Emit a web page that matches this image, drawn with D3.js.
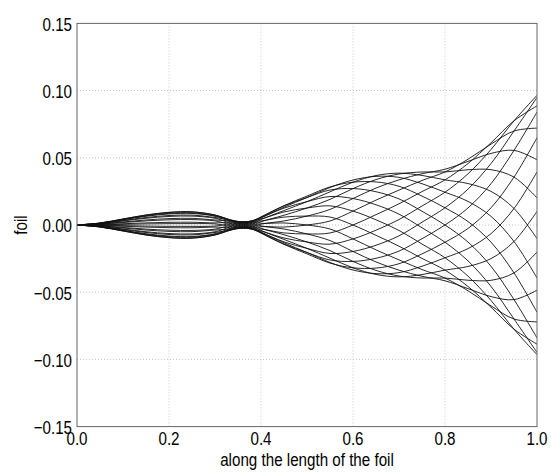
<!DOCTYPE html>
<html><head><meta charset="utf-8">
<script src="https://cdn.jsdelivr.net/npm/d3@7"></script>
<style>body{margin:0;background:#fff}svg{display:block}text{font-family:'Liberation Sans',Arial,sans-serif;font-size:18.5px;fill:#000}</style>
</head><body><svg id="c" width="551" height="476"></svg>
<script>
// tick labels
const xTicks=[0,0.2,0.4,0.6,0.8,1.0];
const yTicks=[-0.15,-0.10,-0.05,0,0.05,0.10,0.15];
// positions along the foil where the snapshots are sampled
const xGrid=[0,0.05,0.1,0.15,0.2,0.25,0.3,0.325,0.35,0.375,0.4,0.45,0.5,0.55,0.6,0.65,0.7,0.75,0.8,0.85,0.9,0.95,1.0];
// foil shape snapshots (one row per snapshot)
const snapshots=[
[0,0.00075,0.00225,0.00375,0.00475,0.00495,0.00375,0.00321,0.0027,0.00058,-0.00401,-0.01077,-0.01739,-0.02468,-0.03186,-0.0368,-0.03859,-0.03688,-0.03357,-0.03084,-0.02501,-0.01228,0.01014],
[0,0.00111,0.00334,0.00557,0.00706,0.00736,0.00557,0.00416,0.00257,-0.00029,-0.0052,-0.01325,-0.02045,-0.02788,-0.0335,-0.03619,-0.03544,-0.0307,-0.02439,-0.01756,-0.00643,0.01228,0.03945],
[0,0.00137,0.00411,0.00685,0.00868,0.00904,0.00685,0.00469,0.00218,-0.00114,-0.00587,-0.01442,-0.0215,-0.02834,-0.03186,-0.03204,-0.02883,-0.02151,-0.01282,-0.00256,0.01279,0.03564,0.0649],
[0,0.00149,0.00448,0.00746,0.00945,0.00985,0.00746,0.00477,0.00159,-0.00187,-0.00597,-0.01418,-0.02045,-0.02604,-0.0271,-0.02476,-0.0194,-0.01022,0,0.01268,0.03075,0.05551,0.084],
[0,0.00147,0.0044,0.00734,0.00929,0.00968,0.00734,0.00438,0.00083,-0.00242,-0.00548,-0.01256,-0.01739,-0.02118,-0.01969,-0.01505,-0.00807,0.00207,0.01282,0.02669,0.0457,0.06994,0.09488],
[0,0.0013,0.0039,0.0065,0.00823,0.00857,0.0065,0.00357,0,-0.00274,-0.00446,-0.0097,-0.01264,-0.01425,-0.01035,-0.00387,0.00405,0.01416,0.02439,0.03808,0.05618,0.07753,0.09647],
[0,0.001,0.00301,0.00502,0.00636,0.00662,0.00502,0.0024,-0.00083,-0.00278,-0.003,-0.0059,-0.00664,-0.00593,0,0.00769,0.01578,0.02486,0.03357,0.04575,0.06116,0.07753,0.08861],
[0,0.00061,0.00183,0.00305,0.00386,0.00403,0.00305,0.001,-0.00159,-0.00256,-0.00125,-0.00152,0,0.00298,0.01035,0.0185,0.02596,0.03313,0.03947,0.04893,0.06015,0.06994,0.07208],
[0,0.00016,0.00047,0.00078,0.00099,0.00103,0.00078,-0.0005,-0.00218,-0.00208,0.00063,0.00301,0.00664,0.01159,0.01969,0.0275,0.0336,0.03815,0.0415,0.04733,0.05326,0.05551,0.0485],
[0,-0.00031,-0.00094,-0.00156,-0.00198,-0.00206,-0.00156,-0.00195,-0.00257,-0.0014,0.00244,0.00725,0.01264,0.01907,0.0271,0.0338,0.03795,0.03945,0.03947,0.0411,0.04115,0.03564,0.02017],
[0,-0.00075,-0.00225,-0.00375,-0.00475,-0.00495,-0.00375,-0.00321,-0.0027,-0.00058,0.00401,0.01077,0.01739,0.02468,0.03186,0.0368,0.03859,0.03688,0.03357,0.03084,0.02501,0.01228,-0.01014],
[0,-0.00111,-0.00334,-0.00557,-0.00706,-0.00736,-0.00557,-0.00416,-0.00257,0.00029,0.0052,0.01325,0.02045,0.02788,0.0335,0.03619,0.03544,0.0307,0.02439,0.01756,0.00643,-0.01228,-0.03945],
[0,-0.00137,-0.00411,-0.00685,-0.00868,-0.00904,-0.00685,-0.00469,-0.00218,0.00114,0.00587,0.01442,0.0215,0.02834,0.03186,0.03204,0.02883,0.02151,0.01282,0.00256,-0.01279,-0.03564,-0.0649],
[0,-0.00149,-0.00448,-0.00746,-0.00945,-0.00985,-0.00746,-0.00477,-0.00159,0.00187,0.00597,0.01418,0.02045,0.02604,0.0271,0.02476,0.0194,0.01022,0,-0.01268,-0.03075,-0.05551,-0.084],
[0,-0.00147,-0.0044,-0.00734,-0.00929,-0.00968,-0.00734,-0.00438,-0.00083,0.00242,0.00548,0.01256,0.01739,0.02118,0.01969,0.01505,0.00807,-0.00207,-0.01282,-0.02669,-0.0457,-0.06994,-0.09488],
[0,-0.0013,-0.0039,-0.0065,-0.00823,-0.00857,-0.0065,-0.00357,0,0.00274,0.00446,0.0097,0.01264,0.01425,0.01035,0.00387,-0.00405,-0.01416,-0.02439,-0.03808,-0.05618,-0.07753,-0.09647],
[0,-0.001,-0.00301,-0.00502,-0.00636,-0.00662,-0.00502,-0.0024,0.00083,0.00278,0.003,0.0059,0.00664,0.00593,0,-0.00769,-0.01578,-0.02486,-0.03357,-0.04575,-0.06116,-0.07753,-0.08861],
[0,-0.00061,-0.00183,-0.00305,-0.00386,-0.00403,-0.00305,-0.001,0.00159,0.00256,0.00125,0.00152,0,-0.00298,-0.01035,-0.0185,-0.02596,-0.03313,-0.03947,-0.04893,-0.06015,-0.06994,-0.07208],
[0,-0.00016,-0.00047,-0.00078,-0.00099,-0.00103,-0.00078,0.0005,0.00218,0.00208,-0.00063,-0.00301,-0.00664,-0.01159,-0.01969,-0.0275,-0.0336,-0.03815,-0.0415,-0.04733,-0.05326,-0.05551,-0.0485],
[0,0.00031,0.00094,0.00156,0.00198,0.00206,0.00156,0.00195,0.00257,0.0014,-0.00244,-0.00725,-0.01264,-0.01907,-0.0271,-0.0338,-0.03795,-0.03945,-0.03947,-0.0411,-0.04115,-0.03564,-0.02017]
];
const svg=d3.select('#c');
const L=77,R=537,T=23.4,B=426.6;
const x=d3.scaleLinear().domain([0,1]).range([L,R]);
const y=d3.scaleLinear().domain([-0.15,0.15]).range([B,T]);
const g=svg.append('g');
g.selectAll('line.gx').data(xTicks.slice(1,-1)).join('line').attr('class','gx').attr('x1',d=>x(d)).attr('x2',d=>x(d)).attr('y1',T).attr('y2',B).attr('stroke','#c4c4c4').attr('stroke-dasharray','1,2');
g.selectAll('line.gy').data(yTicks.slice(1,-1)).join('line').attr('class','gy').attr('y1',d=>y(d)).attr('y2',d=>y(d)).attr('x1',L).attr('x2',R).attr('stroke','#c4c4c4').attr('stroke-dasharray','1,2');
svg.append('clipPath').attr('id','cp').append('rect').attr('x',L).attr('y',T).attr('width',R-L).attr('height',B-T);
const line=d3.line().x((d,i)=>x(xGrid[i])).y(d=>y(d)).curve(d3.curveCatmullRom.alpha(0.5));
svg.append('g').attr('clip-path','url(#cp)').selectAll('path').data(snapshots).join('path').attr('d',line).attr('fill','none').attr('stroke','#111').attr('stroke-width',0.9);
svg.append('rect').attr('x',L).attr('y',T).attr('width',R-L).attr('height',B-T).attr('fill','none').attr('stroke','#666').attr('stroke-width',1);
const fmtY=d=>(d<0?'\u2212':'')+Math.abs(d).toFixed(2);
const SX=0.82;
function lab(px,py,txt,anchor,rot){svg.append('text').attr('transform',`translate(${px},${py})`+(rot?` rotate(${rot})`:'')+` scale(${SX},1)`).attr('text-anchor',anchor).text(txt);}
yTicks.forEach(d=>lab(L-5,y(d)+7.4,fmtY(d),'end'));
xTicks.forEach(d=>lab(x(d),444.5,d.toFixed(1),'middle'));
lab(307,466,'along the length of the foil','middle');
lab(27,225,'foil','middle',-90);
</script></body></html>
